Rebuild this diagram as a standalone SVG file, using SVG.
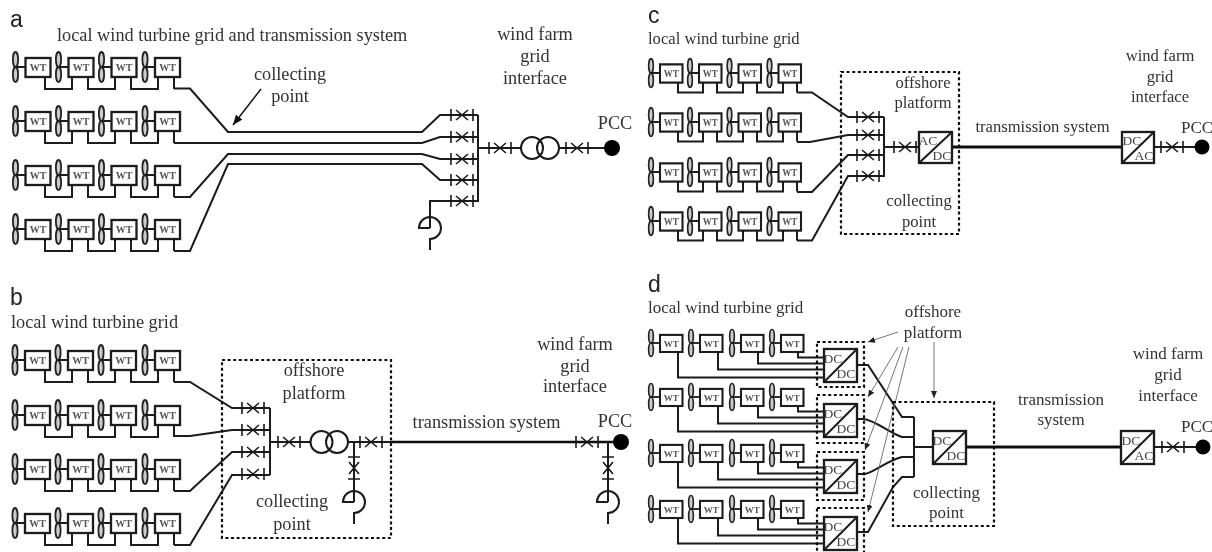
<svg xmlns="http://www.w3.org/2000/svg" width="1212" height="552" viewBox="0 0 1212 552">
<style>
text{font-family:"Liberation Serif","Times New Roman",serif;fill:#333}
.t18{font-size:18.3px}
.t17{font-size:17px}
.t16{font-size:16.6px}
.m{text-anchor:middle}
.h{font-family:"Liberation Sans",Arial,sans-serif;font-size:23px;fill:#222}
.wt{font-size:10px;font-weight:bold;text-anchor:middle;fill:#555}
.cv{font-size:13.5px;text-anchor:middle;fill:#444}
.l{fill:none;stroke:#1a1a1a;stroke-width:2;stroke-linejoin:miter}
.thick{fill:none;stroke:#111;stroke-width:3.2}
.dash{fill:none;stroke:#111;stroke-width:2.2;stroke-dasharray:3 2.6}
.lead{fill:none;stroke:#666;stroke-width:.9;marker-end:url(#ah)}
.box{fill:#fff;stroke:#1a1a1a;stroke-width:2.3}
</style>
<defs>
<filter id="soft" x="0" y="0" width="100%" height="100%"><feGaussianBlur stdDeviation="0.55"/></filter>
<marker id="ah" markerUnits="userSpaceOnUse" markerWidth="8" markerHeight="6" refX="7" refY="3" orient="auto"><path d="M0,0L7,3L0,6z" fill="#222"/></marker>
<marker id="ahb" markerUnits="userSpaceOnUse" markerWidth="11" markerHeight="8" refX="10" refY="4" orient="auto"><path d="M0,0L10,4L0,8z" fill="#111"/></marker>
<g id="wt">
<ellipse cx="0" cy="-7.5" rx="2.6" ry="7.5" fill="#ccc" stroke="#222" stroke-width="1.8"/>
<ellipse cx="0" cy="7.5" rx="2.6" ry="7.5" fill="#ccc" stroke="#222" stroke-width="1.8"/>
<path d="M0,0H11" class="l"/>
<rect x="10" y="-9" width="25" height="19" class="box"/>
</g>
<path id="busA" class="l" d="M45,9V22H72V9M88,9V22H115V9M131,9V22H158V9M174,9V22"/>
<path id="busC" class="l" d="M678,9V19.500H703V9M717,9V19.500H743V9M757,9V19.500H783V9M797,9V19.500"/>
<path id="busD" class="l" d="M678,8V34.500H824M718,8V26.500H824M758,8V20.500H824M798,8V14.500H824"/>
<g id="brk"><path class="l" d="M-11,-6V6M11,-6V6M-6,-5L6,5M-6,5L6,-5" style="stroke-width:1.6"/></g>
<g id="brv"><path class="l" d="M-6,-11H6M-6,11H6M-5,-6L5,6M5,-6L-5,6" style="stroke-width:1.6"/></g>
<path id="hook" class="l" d="M0,0H-11A11,11 0 1 1 0,11V22"/>
</defs>
<g filter="url(#soft)">
<g id="connectors">
<use href="#busA" y="67"/><use href="#busA" y="121"/><use href="#busA" y="175"/><use href="#busA" y="229"/>
<path class="l" d="M174,88.500H190L228,132H422L440,115H478"/>
<path class="l" d="M174,143H422L440,137H478"/>
<path class="l" d="M174,197H190L228,154H422L440,159H478"/>
<path class="l" d="M174,251H190L228,164H422L440,180H478"/>
<path class="l" d="M478,115V201H430V228"/>
<path class="l" d="M478,148H521"/><path class="l" d="M559,148H612"/>
<path class="lead" style="stroke:#111;stroke-width:1.4;marker-end:url(#ahb)" d="M261,89L233,125"/>

<use href="#busA" y="360"/><use href="#busA" y="415"/><use href="#busA" y="469"/><use href="#busA" y="523"/>
<path class="l" d="M174,382H190L232,408H270"/>
<path class="l" d="M174,436H190L232,430H270"/>
<path class="l" d="M174,491H190L232,452H270"/>
<path class="l" d="M174,545H190L232,475H270"/>
<path class="l" d="M270,408V475M270,442H311"/>
<path class="l" d="M348,442H392M354,442V502"/>
<path class="thick" style="stroke-width:2.6" d="M392,442H621"/>
<path class="l" d="M608,442V502"/>

<use href="#busC" y="73"/><use href="#busC" y="122"/><use href="#busC" y="172"/><use href="#busC" y="221"/>
<path class="l" d="M797,92.500H812L848,117H884"/>
<path class="l" d="M797,142H810L848,135H884"/>
<path class="l" d="M797,192H812L848,155H884"/>
<path class="l" d="M797,240.500H812L848,176H884"/>
<path class="l" d="M884,117V177M884,147H919"/>
<path class="thick" d="M952,147H1122"/>
<path class="l" d="M1153,147H1202"/>

<use href="#busD" y="343"/><use href="#busD" y="397"/><use href="#busD" y="453"/><use href="#busD" y="509"/>
<path class="l" d="M857,365H868L902,417H914"/>
<path class="l" d="M857,419H863C875,420 888,432 902,437H914"/>
<path class="l" d="M857,474H865C875,472 888,460 902,457H914"/>
<path class="l" d="M857,532H868L893,487L902,477H914"/>
<path class="l" d="M914,417V477M914,447H933"/>
<path class="thick" d="M966,447H1122"/>
<path class="l" d="M1154,447H1203"/>
<path class="lead" d="M898,332L868,342"/>
<path class="lead" d="M898,347L868,397"/>
<path class="lead" d="M903,347L865,450"/>
<path class="lead" d="M909,347L868,512"/>
<path class="lead" d="M934,342V398"/>
</g>

<g id="platforms">
<rect id="b-platform" class="dash" x="222" y="360" width="169" height="178"/>
<rect id="c-platform" class="dash" x="841" y="72" width="118" height="162"/>
<rect id="d-platform-main" class="dash" x="893" y="402" width="101" height="124"/>
<rect id="d-platform-1" class="dash" x="817" y="342" width="47" height="45"/>
<rect id="d-platform-2" class="dash" x="817" y="395" width="47" height="48"/>
<rect id="d-platform-3" class="dash" x="817" y="452" width="47" height="48"/>
<rect id="d-platform-4" class="dash" x="817" y="508" width="47" height="50"/>
</g>

<g id="panel-a-turbines">
<g id="a11" transform="translate(15.500,67)"><use href="#wt"/><text class="wt" x="22.500" y="4">WT</text></g>
<g id="a12" transform="translate(58.500,67)"><use href="#wt"/><text class="wt" x="22.500" y="4">WT</text></g>
<g id="a13" transform="translate(101.500,67)"><use href="#wt"/><text class="wt" x="22.500" y="4">WT</text></g>
<g id="a14" transform="translate(145,67)"><use href="#wt"/><text class="wt" x="22.500" y="4">WT</text></g>
<g id="a21" transform="translate(15.500,121)"><use href="#wt"/><text class="wt" x="22.500" y="4">WT</text></g>
<g id="a22" transform="translate(58.500,121)"><use href="#wt"/><text class="wt" x="22.500" y="4">WT</text></g>
<g id="a23" transform="translate(101.500,121)"><use href="#wt"/><text class="wt" x="22.500" y="4">WT</text></g>
<g id="a24" transform="translate(145,121)"><use href="#wt"/><text class="wt" x="22.500" y="4">WT</text></g>
<g id="a31" transform="translate(15.500,175)"><use href="#wt"/><text class="wt" x="22.500" y="4">WT</text></g>
<g id="a32" transform="translate(58.500,175)"><use href="#wt"/><text class="wt" x="22.500" y="4">WT</text></g>
<g id="a33" transform="translate(101.500,175)"><use href="#wt"/><text class="wt" x="22.500" y="4">WT</text></g>
<g id="a34" transform="translate(145,175)"><use href="#wt"/><text class="wt" x="22.500" y="4">WT</text></g>
<g id="a41" transform="translate(15.500,229)"><use href="#wt"/><text class="wt" x="22.500" y="4">WT</text></g>
<g id="a42" transform="translate(58.500,229)"><use href="#wt"/><text class="wt" x="22.500" y="4">WT</text></g>
<g id="a43" transform="translate(101.500,229)"><use href="#wt"/><text class="wt" x="22.500" y="4">WT</text></g>
<g id="a44" transform="translate(145,229)"><use href="#wt"/><text class="wt" x="22.500" y="4">WT</text></g>
</g>
<g id="panel-b-turbines">
<g id="b11" transform="translate(15,360)"><use href="#wt"/><text class="wt" x="22.500" y="4">WT</text></g>
<g id="b12" transform="translate(58,360)"><use href="#wt"/><text class="wt" x="22.500" y="4">WT</text></g>
<g id="b13" transform="translate(101,360)"><use href="#wt"/><text class="wt" x="22.500" y="4">WT</text></g>
<g id="b14" transform="translate(145,360)"><use href="#wt"/><text class="wt" x="22.500" y="4">WT</text></g>
<g id="b21" transform="translate(15,415)"><use href="#wt"/><text class="wt" x="22.500" y="4">WT</text></g>
<g id="b22" transform="translate(58,415)"><use href="#wt"/><text class="wt" x="22.500" y="4">WT</text></g>
<g id="b23" transform="translate(101,415)"><use href="#wt"/><text class="wt" x="22.500" y="4">WT</text></g>
<g id="b24" transform="translate(145,415)"><use href="#wt"/><text class="wt" x="22.500" y="4">WT</text></g>
<g id="b31" transform="translate(15,469)"><use href="#wt"/><text class="wt" x="22.500" y="4">WT</text></g>
<g id="b32" transform="translate(58,469)"><use href="#wt"/><text class="wt" x="22.500" y="4">WT</text></g>
<g id="b33" transform="translate(101,469)"><use href="#wt"/><text class="wt" x="22.500" y="4">WT</text></g>
<g id="b34" transform="translate(145,469)"><use href="#wt"/><text class="wt" x="22.500" y="4">WT</text></g>
<g id="b41" transform="translate(15,523)"><use href="#wt"/><text class="wt" x="22.500" y="4">WT</text></g>
<g id="b42" transform="translate(58,523)"><use href="#wt"/><text class="wt" x="22.500" y="4">WT</text></g>
<g id="b43" transform="translate(101,523)"><use href="#wt"/><text class="wt" x="22.500" y="4">WT</text></g>
<g id="b44" transform="translate(145,523)"><use href="#wt"/><text class="wt" x="22.500" y="4">WT</text></g>
</g>
<g id="panel-c-turbines">
<g id="c11" transform="translate(651,73) scale(.9,.96)"><use href="#wt"/><text class="wt" x="22.500" y="4">WT</text></g>
<g id="c12" transform="translate(690,73) scale(.9,.96)"><use href="#wt"/><text class="wt" x="22.500" y="4">WT</text></g>
<g id="c13" transform="translate(729.500,73) scale(.9,.96)"><use href="#wt"/><text class="wt" x="22.500" y="4">WT</text></g>
<g id="c14" transform="translate(769.500,73) scale(.9,.96)"><use href="#wt"/><text class="wt" x="22.500" y="4">WT</text></g>
<g id="c21" transform="translate(651,122) scale(.9,.96)"><use href="#wt"/><text class="wt" x="22.500" y="4">WT</text></g>
<g id="c22" transform="translate(690,122) scale(.9,.96)"><use href="#wt"/><text class="wt" x="22.500" y="4">WT</text></g>
<g id="c23" transform="translate(729.500,122) scale(.9,.96)"><use href="#wt"/><text class="wt" x="22.500" y="4">WT</text></g>
<g id="c24" transform="translate(769.500,122) scale(.9,.96)"><use href="#wt"/><text class="wt" x="22.500" y="4">WT</text></g>
<g id="c31" transform="translate(651,172) scale(.9,.96)"><use href="#wt"/><text class="wt" x="22.500" y="4">WT</text></g>
<g id="c32" transform="translate(690,172) scale(.9,.96)"><use href="#wt"/><text class="wt" x="22.500" y="4">WT</text></g>
<g id="c33" transform="translate(729.500,172) scale(.9,.96)"><use href="#wt"/><text class="wt" x="22.500" y="4">WT</text></g>
<g id="c34" transform="translate(769.500,172) scale(.9,.96)"><use href="#wt"/><text class="wt" x="22.500" y="4">WT</text></g>
<g id="c41" transform="translate(651,221) scale(.9,.96)"><use href="#wt"/><text class="wt" x="22.500" y="4">WT</text></g>
<g id="c42" transform="translate(690,221) scale(.9,.96)"><use href="#wt"/><text class="wt" x="22.500" y="4">WT</text></g>
<g id="c43" transform="translate(729.500,221) scale(.9,.96)"><use href="#wt"/><text class="wt" x="22.500" y="4">WT</text></g>
<g id="c44" transform="translate(769.500,221) scale(.9,.96)"><use href="#wt"/><text class="wt" x="22.500" y="4">WT</text></g>
</g>
<g id="panel-d-turbines">
<g id="d11" transform="translate(651,343) scale(.9,.9)"><use href="#wt"/><text class="wt" x="22.500" y="4">WT</text></g>
<g id="d12" transform="translate(691,343) scale(.9,.9)"><use href="#wt"/><text class="wt" x="22.500" y="4">WT</text></g>
<g id="d13" transform="translate(732,343) scale(.9,.9)"><use href="#wt"/><text class="wt" x="22.500" y="4">WT</text></g>
<g id="d14" transform="translate(772,343) scale(.9,.9)"><use href="#wt"/><text class="wt" x="22.500" y="4">WT</text></g>
<g id="d21" transform="translate(651,397) scale(.9,.9)"><use href="#wt"/><text class="wt" x="22.500" y="4">WT</text></g>
<g id="d22" transform="translate(691,397) scale(.9,.9)"><use href="#wt"/><text class="wt" x="22.500" y="4">WT</text></g>
<g id="d23" transform="translate(732,397) scale(.9,.9)"><use href="#wt"/><text class="wt" x="22.500" y="4">WT</text></g>
<g id="d24" transform="translate(772,397) scale(.9,.9)"><use href="#wt"/><text class="wt" x="22.500" y="4">WT</text></g>
<g id="d31" transform="translate(651,453) scale(.9,.9)"><use href="#wt"/><text class="wt" x="22.500" y="4">WT</text></g>
<g id="d32" transform="translate(691,453) scale(.9,.9)"><use href="#wt"/><text class="wt" x="22.500" y="4">WT</text></g>
<g id="d33" transform="translate(732,453) scale(.9,.9)"><use href="#wt"/><text class="wt" x="22.500" y="4">WT</text></g>
<g id="d34" transform="translate(772,453) scale(.9,.9)"><use href="#wt"/><text class="wt" x="22.500" y="4">WT</text></g>
<g id="d41" transform="translate(651,509) scale(.9,.9)"><use href="#wt"/><text class="wt" x="22.500" y="4">WT</text></g>
<g id="d42" transform="translate(691,509) scale(.9,.9)"><use href="#wt"/><text class="wt" x="22.500" y="4">WT</text></g>
<g id="d43" transform="translate(732,509) scale(.9,.9)"><use href="#wt"/><text class="wt" x="22.500" y="4">WT</text></g>
<g id="d44" transform="translate(772,509) scale(.9,.9)"><use href="#wt"/><text class="wt" x="22.500" y="4">WT</text></g>
</g>

<g id="breakers">
<use href="#brk" x="462" y="115"/><use href="#brk" x="462" y="137"/><use href="#brk" x="462" y="159"/><use href="#brk" x="462" y="180"/><use href="#brk" x="462" y="201"/>
<use href="#brk" x="500" y="148"/><use href="#brk" x="577" y="148"/>
<use href="#brk" x="253" y="408"/><use href="#brk" x="253" y="430"/><use href="#brk" x="253" y="452"/><use href="#brk" x="253" y="474"/>
<use href="#brk" x="289" y="442"/><use href="#brk" x="371" y="442"/><use href="#brk" x="587" y="442"/>
<use href="#brv" x="354" y="468"/><use href="#brv" x="608" y="468"/>
<use href="#brk" x="868" y="117"/><use href="#brk" x="868" y="135"/><use href="#brk" x="868" y="155"/><use href="#brk" x="868" y="176"/>
<use href="#brk" x="905" y="147"/><use href="#brk" x="1172" y="147"/><use href="#brk" x="1173" y="447"/>
</g>
<g id="reactors">
<use href="#hook" x="430" y="228"/><use href="#hook" x="354" y="502"/><use href="#hook" x="608" y="502"/>
</g>
<g id="transformers" fill="none" stroke="#1a1a1a" stroke-width="2">
<g id="a-transformer"><circle cx="532" cy="148" r="11"/><circle cx="548" cy="148" r="11"/></g>
<g id="b-transformer"><circle cx="321.500" cy="442" r="11"/><circle cx="337" cy="442" r="11"/></g>
</g>
<g id="pcc" fill="#000">
<circle id="a-pcc" cx="612" cy="148" r="8"/>
<circle id="b-pcc" cx="621" cy="442" r="8"/>
<circle id="c-pcc" cx="1202" cy="147" r="7.500"/>
<circle id="d-pcc" cx="1203" cy="447" r="7.500"/>
</g>
<g id="converters">
<g id="c-conv1"><rect class="box" x="919" y="132" width="33" height="31"/><path class="l" d="M919,163L952,132"/><text class="cv" x="928" y="145">AC</text><text class="cv" x="942" y="160">DC</text></g>
<g id="c-conv2"><rect class="box" x="1122" y="132" width="32" height="31"/><path class="l" d="M1122,163L1154,132"/><text class="cv" x="1132" y="145">DC</text><text class="cv" x="1144" y="160">AC</text></g>
<g id="d-conv1"><rect class="box" x="824" y="349" width="33" height="33"/><path class="l" d="M824,382L857,349"/><text class="cv" x="833" y="363">DC</text><text class="cv" x="846" y="378">DC</text></g>
<g id="d-conv2"><rect class="box" x="824" y="404" width="33" height="33"/><path class="l" d="M824,437L857,404"/><text class="cv" x="833" y="418">DC</text><text class="cv" x="846" y="433">DC</text></g>
<g id="d-conv3"><rect class="box" x="824" y="460" width="33" height="33"/><path class="l" d="M824,493L857,460"/><text class="cv" x="833" y="474">DC</text><text class="cv" x="846" y="489">DC</text></g>
<g id="d-conv4"><rect class="box" x="824" y="517" width="33" height="33"/><path class="l" d="M824,550L857,517"/><text class="cv" x="833" y="531">DC</text><text class="cv" x="846" y="546">DC</text></g>
<g id="d-conv5"><rect class="box" x="933" y="431" width="33" height="33"/><path class="l" d="M933,464L966,431"/><text class="cv" x="942" y="445">DC</text><text class="cv" x="956" y="460">DC</text></g>
<g id="d-conv6"><rect class="box" x="1121" y="431" width="33" height="33"/><path class="l" d="M1121,464L1154,431"/><text class="cv" x="1131" y="445">DC</text><text class="cv" x="1144" y="460">AC</text></g>
</g>

<g id="labels">
<text class="h" x="10" y="27">a</text>
<text class="h" x="10" y="305">b</text>
<text class="h" x="648" y="23">c</text>
<text class="h" x="648" y="292">d</text>
<text class="t18" x="57" y="41">local wind turbine grid and transmission system</text>
<text class="t18 m" x="290" y="80">collecting</text>
<text class="t18 m" x="290" y="102">point</text>
<text class="t18 m" x="535" y="40">wind farm</text>
<text class="t18 m" x="535" y="62">grid</text>
<text class="t18 m" x="535" y="84">interface</text>
<text class="t18 m" x="615" y="129">PCC</text>
<text class="t18" x="11" y="328">local wind turbine grid</text>
<text class="t18 m" x="314" y="376">offshore</text>
<text class="t18 m" x="314" y="399">platform</text>
<text class="t18 m" x="292" y="507">collecting</text>
<text class="t18 m" x="292" y="530">point</text>
<text class="t18 m" x="486.500" y="428">transmission system</text>
<text class="t18 m" x="575" y="350">wind farm</text>
<text class="t18 m" x="575" y="372">grid</text>
<text class="t18 m" x="575" y="392">interface</text>
<text class="t18 m" x="615" y="427">PCC</text>
<text class="t16" x="648" y="44">local wind turbine grid</text>
<text class="t16 m" x="923" y="88">offshore</text>
<text class="t16 m" x="923" y="108">platform</text>
<text class="t16 m" x="919" y="206">collecting</text>
<text class="t16 m" x="919" y="227">point</text>
<text class="t16 m" x="1042.500" y="132">transmission system</text>
<text class="t16 m" x="1160" y="61">wind farm</text>
<text class="t16 m" x="1160" y="82">grid</text>
<text class="t16 m" x="1160" y="102">interface</text>
<text class="t17 m" x="1197" y="133">PCC</text>
<text class="t17" x="648" y="313">local wind turbine grid</text>
<text class="t17 m" x="933" y="317">offshore</text>
<text class="t17 m" x="933" y="338">platform</text>
<text class="t17 m" x="946.500" y="498">collecting</text>
<text class="t17 m" x="946.500" y="518">point</text>
<text class="t17 m" x="1061" y="405">transmission</text>
<text class="t17 m" x="1061" y="425">system</text>
<text class="t17 m" x="1168" y="359">wind farm</text>
<text class="t17 m" x="1168" y="380">grid</text>
<text class="t17 m" x="1168" y="401">interface</text>
<text class="t17 m" x="1197" y="432">PCC</text>
</g>
</g>
</svg>
